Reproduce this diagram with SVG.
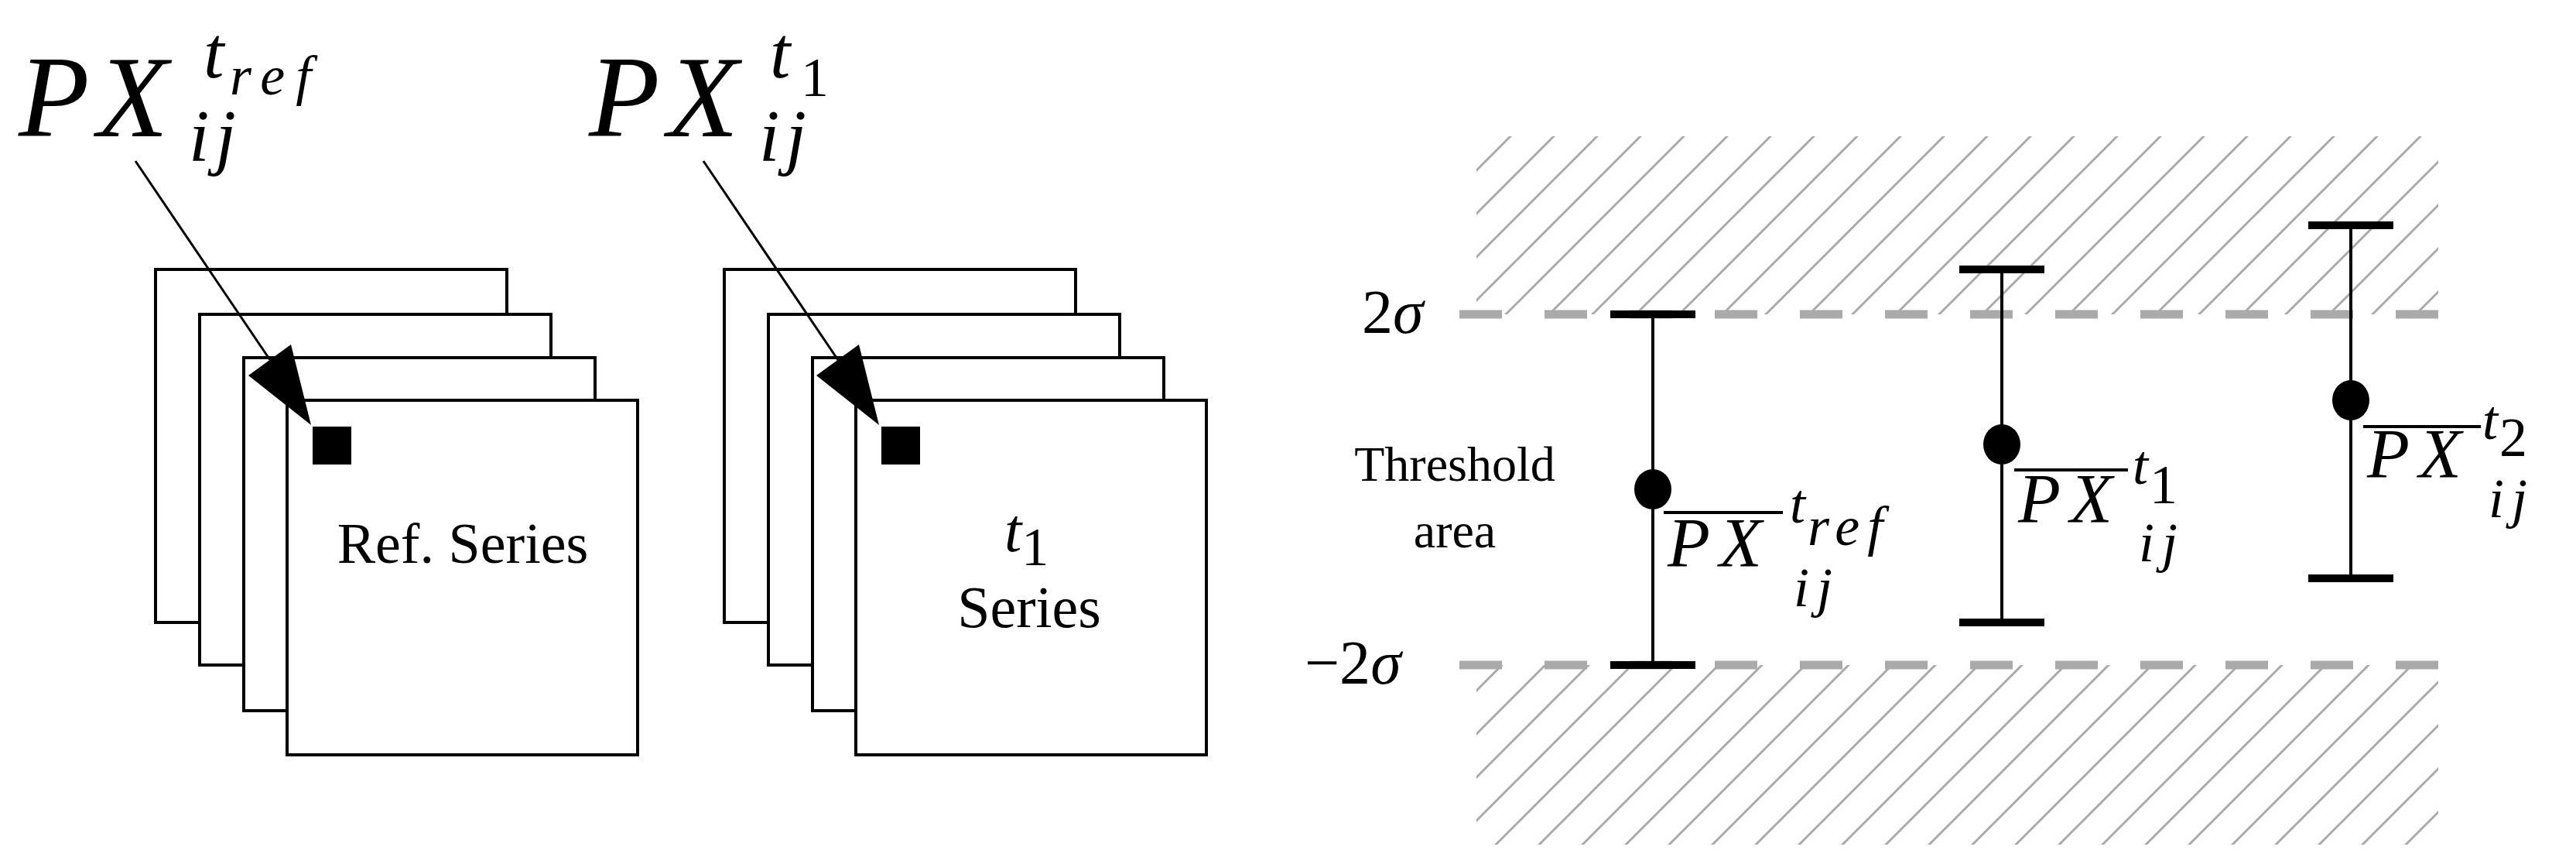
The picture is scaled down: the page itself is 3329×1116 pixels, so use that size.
<svg xmlns="http://www.w3.org/2000/svg" width="3329" height="1116" viewBox="0 0 3329 1116">
<style>
.pg{fill:#fff;stroke:#000;stroke-width:4}
.m{font-family:"Liberation Serif",serif;font-style:italic;fill:#000}
.r{font-family:"Liberation Serif",serif;fill:#000}
.dash{stroke:#aaa;stroke-width:11;stroke-dasharray:55 55;fill:none}
.bar{stroke:#000;stroke-width:4;fill:none}
.cap{stroke:#000;stroke-width:10}
.ov{stroke:#000;stroke-width:4}
</style>
<defs>
<pattern id="h" patternUnits="userSpaceOnUse" width="56" height="56">
<path d="M-14,14 L14,-14 M0,56 L56,0 M42,70 L70,42" stroke="#aaa" stroke-width="3"/>
</pattern>
</defs>
<g id="hatch">
<rect x="1908" y="176" width="1243" height="230" fill="url(#h)"/>
<rect x="1908" y="859" width="1243" height="232" fill="url(#h)"/>
</g>
<g id="stack-ref">
<rect class="pg" x="201" y="348" width="454" height="456"/>
<rect class="pg" x="258" y="406" width="454" height="453"/>
<rect class="pg" x="315" y="462" width="454" height="456"/>
<rect class="pg" x="371" y="517" width="453" height="458"/>
<rect x="404" y="551" width="50" height="49" fill="#000"/>
<text class="r" x="598" y="727" font-size="74" text-anchor="middle">Ref. Series</text>
</g>
<g id="stack-t1">
<rect class="pg" x="936" y="348" width="454" height="456"/>
<rect class="pg" x="993" y="406" width="454" height="453"/>
<rect class="pg" x="1050" y="462" width="454" height="456"/>
<rect class="pg" x="1106" y="517" width="453" height="458"/>
<rect x="1139" y="551" width="50" height="49" fill="#000"/>
<text class="m" x="1298" y="712" font-size="80">t<tspan font-style="normal" font-size="70" dy="18">1</tspan></text>
<text class="r" x="1330" y="810" font-size="76" text-anchor="middle">Series</text>
</g>
<g id="label-ref">
<text class="m" x="24" y="176" font-size="150" letter-spacing="10">PX</text>
<text class="m" x="263" y="100" font-size="95">t</text>
<text class="m" x="297" y="122" font-size="72" letter-spacing="14">ref</text>
<text class="m" x="244" y="208" font-size="95" letter-spacing="8">ij</text>
</g>
<g id="label-t1">
<text class="m" x="761" y="176" font-size="150" letter-spacing="10">PX</text>
<text class="m" x="995" y="100" font-size="95">t</text>
<text class="r" x="1035" y="124" font-size="72">1</text>
<text class="m" x="981" y="208" font-size="95" letter-spacing="8">ij</text>
</g>
<g id="connectors">
<line x1="175" y1="208" x2="349" y2="465" stroke="#000" stroke-width="3"/>
<path d="M402,549 L321,485 L376,445 z" fill="#000"/>
<line x1="909" y1="208" x2="1083" y2="465" stroke="#000" stroke-width="3"/>
<path d="M1136,549 L1055,485 L1110,445 z" fill="#000"/>
</g>
<g id="thresholds">
<line class="dash" x1="1886" y1="406" x2="3182" y2="406"/>
<line class="dash" x1="1886" y1="859" x2="3182" y2="859"/>
<text class="r" x="1760" y="430" font-size="80">2<tspan font-style="italic">σ</tspan></text>
<text class="r" x="1686" y="883" font-size="80">−2<tspan font-style="italic">σ</tspan></text>
<text class="r" x="1880" y="621" font-size="64" text-anchor="middle">Threshold</text>
<text class="r" x="1880" y="707" font-size="64" text-anchor="middle">area</text>
</g>
<g id="bar-ref">
<line class="bar" x1="2136" y1="406" x2="2136" y2="859"/>
<line class="cap" x1="2081" y1="406" x2="2191" y2="406"/>
<line class="cap" x1="2081" y1="859" x2="2191" y2="859"/>
<ellipse cx="2136" cy="632" rx="24" ry="26"/>
<line class="ov" x1="2150" y1="662" x2="2304" y2="662"/>
<text class="m" x="2155" y="732" font-size="90" letter-spacing="12">PX</text>
<text class="m" x="2313" y="675" font-size="72">t</text>
<text class="m" x="2336" y="704" font-size="72" letter-spacing="10">ref</text>
<text class="m" x="2318" y="783" font-size="72" letter-spacing="10">ij</text>
</g>
<g id="bar-t1">
<line class="bar" x1="2587" y1="348" x2="2587" y2="804"/>
<line class="cap" x1="2532" y1="348" x2="2642" y2="348"/>
<line class="cap" x1="2532" y1="804" x2="2642" y2="804"/>
<ellipse cx="2587" cy="574" rx="24" ry="26"/>
<line class="ov" x1="2603" y1="607" x2="2750" y2="607"/>
<text class="m" x="2608" y="675" font-size="90" letter-spacing="12">PX</text>
<text class="m" x="2756" y="625" font-size="72">t</text>
<text class="r" x="2778" y="650" font-size="72">1</text>
<text class="m" x="2764" y="725" font-size="72" letter-spacing="10">ij</text>
</g>
<g id="bar-t2">
<line class="bar" x1="3038" y1="291" x2="3038" y2="747"/>
<line class="cap" x1="2983" y1="291" x2="3093" y2="291"/>
<line class="cap" x1="2983" y1="747" x2="3093" y2="747"/>
<ellipse cx="3038" cy="517" rx="24" ry="26"/>
<line class="ov" x1="3054" y1="551" x2="3206" y2="551"/>
<text class="m" x="3059" y="617" font-size="90" letter-spacing="12">PX</text>
<text class="m" x="3208" y="567" font-size="72">t</text>
<text class="r" x="3230" y="589" font-size="72">2</text>
<text class="m" x="3216" y="668" font-size="72" letter-spacing="10">ij</text>
</g>
</svg>
